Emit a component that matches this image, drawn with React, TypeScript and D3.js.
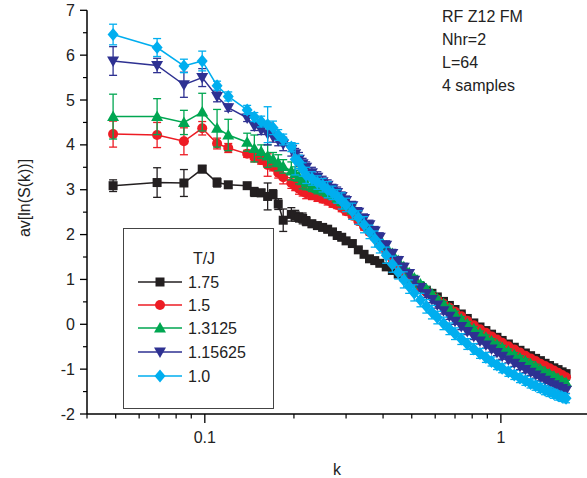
import React from 'react';
import * as d3 from 'd3';

const kValues = [0.049, 0.069, 0.085, 0.098, 0.110, 0.120, 0.139, 0.147, 0.155, 0.163,
  0.170, 0.177, 0.184, 0.196, 0.202, 0.208, 0.214, 0.220, 0.230, 0.240,
  0.250, 0.260, 0.270, 0.280, 0.290, 0.300, 0.315, 0.330, 0.345, 0.360,
  0.375, 0.390, 0.410, 0.430, 0.450, 0.470, 0.490, 0.510, 0.535, 0.560,
  0.585, 0.610, 0.640, 0.670, 0.700, 0.735, 0.770, 0.810, 0.850, 0.890,
  0.930, 0.970, 1.010, 1.060, 1.110, 1.160, 1.210, 1.260, 1.310, 1.360,
  1.410, 1.460, 1.510, 1.560, 1.610, 1.660];

const temperatures = ['1.75', '1.5', '1.3125', '1.15625', '1.0'];

const vals175 = [3.09, 3.16, 3.15, 3.46, 3.16, 3.11, 3.09, 2.95, 2.93, 2.85,
  2.90, 2.68, 2.32, 2.45, 2.42, 2.38, 2.36, 2.30, 2.24, 2.20,
  2.16, 2.12, 2.06, 1.98, 1.94, 1.86, 1.80, 1.66, 1.56, 1.46,
  1.42, 1.36, 1.28, 1.20, 1.12, 1.06, 0.99, 0.92, 0.84, 0.76,
  0.69, 0.61, 0.51, 0.42, 0.33, 0.23, 0.13, 0.03, -0.06, -0.14,
  -0.22, -0.29, -0.36, -0.44, -0.51, -0.58, -0.64, -0.70, -0.76, -0.81,
  -0.87, -0.92, -0.97, -1.01, -1.06, -1.10];
const errs175 = [0.13, 0.33, 0.30, 0.08, 0.10, 0.07, 0.05, 0.10, 0.08, 0.30,
  0.10, 0.12, 0.25, 0.15, 0.12, 0.10, 0.12, 0.10, 0.08, 0.08,
  0.07, 0.08, 0.07, 0.06, 0.07, 0.06, 0.06, 0.05, 0.06, 0.05,
  0.05, 0.05, 0.05, 0.04, 0.05, 0.04, 0.04, 0.04, 0.04, 0.04,
  0.04, 0.04, 0.04, 0.04, 0.04, 0.04, 0.04, 0.04, 0.04, 0.04,
  0.04, 0.04, 0.04, 0.04, 0.04, 0.04, 0.04, 0.04, 0.04, 0.04,
  0.04, 0.04, 0.04, 0.04, 0.04, 0.04];

const vals150 = [4.24, 4.22, 4.08, 4.37, 4.03, 3.93, 3.80, 3.72, 3.66, 3.55,
  3.52, 3.38, 3.28, 3.15, 3.08, 3.02, 2.96, 2.92, 2.88, 2.84,
  2.80, 2.76, 2.70, 2.66, 2.60, 2.52, 2.42, 2.30, 2.18, 2.06,
  1.94, 1.80, 1.62, 1.46, 1.31, 1.17, 1.05, 0.94, 0.82, 0.72,
  0.63, 0.55, 0.46, 0.37, 0.28, 0.18, 0.08, -0.02, -0.11, -0.19,
  -0.27, -0.34, -0.41, -0.49, -0.56, -0.63, -0.70, -0.76, -0.82, -0.88,
  -0.93, -0.98, -1.03, -1.08, -1.13, -1.18];
const errs150 = [0.29, 0.28, 0.30, 0.15, 0.12, 0.10, 0.08, 0.10, 0.09, 0.25,
  0.10, 0.12, 0.15, 0.12, 0.10, 0.12, 0.10, 0.12, 0.10, 0.10,
  0.09, 0.10, 0.09, 0.08, 0.09, 0.08, 0.08, 0.07, 0.08, 0.07,
  0.07, 0.06, 0.06, 0.06, 0.05, 0.05, 0.05, 0.05, 0.05, 0.05,
  0.04, 0.04, 0.04, 0.04, 0.04, 0.04, 0.04, 0.04, 0.04, 0.04,
  0.04, 0.04, 0.04, 0.04, 0.04, 0.04, 0.04, 0.04, 0.04, 0.04,
  0.04, 0.04, 0.04, 0.04, 0.04, 0.04];

const vals13125 = [4.63, 4.63, 4.50, 4.73, 4.37, 4.22, 4.06, 3.92, 3.85, 3.75,
  3.68, 3.60, 3.52, 3.42, 3.36, 3.28, 3.20, 3.15, 3.08, 3.03,
  3.00, 2.94, 2.88, 2.81, 2.74, 2.66, 2.55, 2.42, 2.30, 2.17,
  2.04, 1.91, 1.74, 1.58, 1.42, 1.28, 1.15, 1.03, 0.90, 0.79,
  0.68, 0.57, 0.46, 0.36, 0.24, 0.12, 0.01, -0.10, -0.20, -0.29,
  -0.37, -0.45, -0.52, -0.60, -0.68, -0.75, -0.82, -0.88, -0.94, -1.00,
  -1.06, -1.11, -1.16, -1.21, -1.26, -1.30];
const errs13125 = [0.50, 0.40, 0.27, 0.42, 0.42, 0.35, 0.20, 0.30, 0.15, 0.25,
  0.15, 0.18, 0.15, 0.20, 0.15, 0.15, 0.18, 0.15, 0.12, 0.12,
  0.12, 0.12, 0.10, 0.10, 0.10, 0.10, 0.09, 0.09, 0.08, 0.08,
  0.08, 0.07, 0.07, 0.07, 0.06, 0.06, 0.06, 0.06, 0.05, 0.05,
  0.05, 0.05, 0.05, 0.05, 0.05, 0.05, 0.05, 0.05, 0.05, 0.05,
  0.05, 0.05, 0.05, 0.05, 0.05, 0.05, 0.05, 0.05, 0.05, 0.05,
  0.05, 0.05, 0.05, 0.05, 0.05, 0.05];

const vals115625 = [5.87, 5.77, 5.34, 5.50, 5.08, 4.83, 4.60, 4.42, 4.33, 4.25,
  4.18, 4.10, 4.02, 3.90, 3.80, 3.68, 3.58, 3.50, 3.38, 3.28,
  3.18, 3.10, 3.02, 2.94, 2.85, 2.76, 2.64, 2.50, 2.36, 2.22,
  2.08, 1.94, 1.76, 1.58, 1.42, 1.27, 1.13, 0.98, 0.82, 0.68,
  0.55, 0.43, 0.30, 0.18, 0.07, -0.05, -0.16, -0.27, -0.37, -0.46,
  -0.55, -0.63, -0.71, -0.79, -0.87, -0.94, -1.01, -1.07, -1.13, -1.19,
  -1.25, -1.30, -1.35, -1.39, -1.43, -1.47];
const errs115625 = [0.32, 0.16, 0.28, 0.20, 0.12, 0.08, 0.08, 0.10, 0.10, 0.25,
  0.12, 0.12, 0.15, 0.15, 0.12, 0.15, 0.12, 0.12, 0.12, 0.12,
  0.12, 0.12, 0.10, 0.12, 0.10, 0.10, 0.10, 0.10, 0.10, 0.10,
  0.10, 0.10, 0.10, 0.09, 0.09, 0.09, 0.08, 0.08, 0.08, 0.08,
  0.07, 0.07, 0.07, 0.07, 0.07, 0.07, 0.07, 0.07, 0.07, 0.07,
  0.07, 0.07, 0.07, 0.07, 0.07, 0.07, 0.07, 0.07, 0.07, 0.07,
  0.07, 0.07, 0.07, 0.07, 0.07, 0.07];

const vals100 = [6.46, 6.17, 5.76, 5.87, 5.32, 5.08, 4.78, 4.62, 4.52, 4.45,
  4.38, 4.22, 4.12, 3.95, 3.68, 3.62, 3.45, 3.32, 3.25, 3.16,
  3.10, 3.00, 2.93, 2.85, 2.75, 2.66, 2.52, 2.38, 2.22, 2.06,
  1.90, 1.74, 1.54, 1.34, 1.16, 0.99, 0.84, 0.70, 0.54, 0.40,
  0.27, 0.15, 0.02, -0.10, -0.21, -0.33, -0.44, -0.55, -0.65, -0.74,
  -0.83, -0.91, -0.98, -1.06, -1.13, -1.20, -1.26, -1.32, -1.37, -1.42,
  -1.47, -1.51, -1.55, -1.59, -1.62, -1.65];
const errs100 = [0.23, 0.20, 0.15, 0.22, 0.10, 0.10, 0.10, 0.10, 0.12, 0.40,
  0.15, 0.12, 0.12, 0.10, 0.35, 0.15, 0.15, 0.18, 0.15, 0.15,
  0.15, 0.18, 0.15, 0.15, 0.18, 0.15, 0.18, 0.15, 0.18, 0.15,
  0.18, 0.15, 0.18, 0.18, 0.15, 0.18, 0.15, 0.18, 0.15, 0.15,
  0.15, 0.14, 0.14, 0.13, 0.13, 0.12, 0.12, 0.12, 0.11, 0.11,
  0.10, 0.10, 0.10, 0.10, 0.10, 0.10, 0.10, 0.10, 0.10, 0.10,
  0.10, 0.10, 0.10, 0.10, 0.10, 0.10];

const yTickValues = [-2, -1, 0, 1, 2, 3, 4, 5, 6, 7];
const xMajorTicks = [0.1, 1];
const xMinorTicks = [0.04, 0.05, 0.06, 0.07, 0.08, 0.09, 0.2, 0.3, 0.4, 0.5, 0.6, 0.7, 0.8, 0.9, 2];
const infoLines = ['RF Z12 FM', 'Nhr=2', 'L=64', '4 samples'];
const legendTitle = 'T/J';
const xLabel = 'k';
const yLabel = 'av[ln(S(k))]';

const seriesValues = [vals175, vals150, vals13125, vals115625, vals100];
const seriesErrors = [errs175, errs150, errs13125, errs115625, errs100];
const seriesColors = ['#231f20', '#ed1c24', '#00a651', '#2e3192', '#00aeef'];
const seriesShapes = ['square', 'circle', 'triangleUp', 'triangleDown', 'diamond'];

const FONT = '"Liberation Sans", Arial, sans-serif';

function Marker({ shape, cx, cy, color }: { shape: string; cx: number; cy: number; color: string }) {
  if (shape === 'circle') return <circle cx={cx} cy={cy} r={5} fill={color} />;
  let d = '';
  if (shape === 'square') d = `M${cx - 4.5},${cy - 4.5}h9v9h-9Z`;
  else if (shape === 'triangleUp') d = `M${cx},${cy - 6}L${cx + 6},${cy + 4.5}L${cx - 6},${cy + 4.5}Z`;
  else if (shape === 'triangleDown') d = `M${cx},${cy + 6}L${cx + 6},${cy - 4.5}L${cx - 6},${cy - 4.5}Z`;
  else if (shape === 'diamond') d = `M${cx},${cy - 6.5}L${cx + 5.5},${cy}L${cx},${cy + 6.5}L${cx - 5.5},${cy}Z`;
  return <path d={d} fill={color} />;
}

export default function App() {
  const W = 587, H = 478;
  const x = d3.scaleLog().domain([0.04, 2]).range([87, 590]);
  const y = d3.scaleLinear().domain([-2, 7]).range([414, 10.3]);
  const line = d3.line<number>()
    .x((_, i) => x(kValues[i]))
    .y((v) => y(v));
  const yMinor = d3.range(-2, 7, 0.5).filter((v) => !Number.isInteger(v));
  const x0 = x.range()[0];
  const yb = y.range()[0];

  const legendRowY = [282, 305, 328, 352, 376];

  return (
    <svg width={W} height={H} style={{ position: 'absolute', left: 0, top: 0, background: '#fff' }} fontFamily={FONT}>
      <rect width={W} height={H} fill="#fff" />
      {seriesValues.map((vals, s) => (
        <g key={s}>
          <path d={line(vals) || ''} fill="none" stroke={seriesColors[s]} strokeWidth={1.5} />
          {vals.map((v, i) => {
            const cx = x(kValues[i]);
            const e = seriesErrors[s][i];
            const y1 = y(v - e), y2 = y(v + e);
            return (
              <g key={i} stroke={seriesColors[s]} strokeWidth={1.3}>
                <line x1={cx} x2={cx} y1={y1} y2={y2} />
                <line x1={cx - 4} x2={cx + 4} y1={y1} y2={y1} />
                <line x1={cx - 4} x2={cx + 4} y1={y2} y2={y2} />
              </g>
            );
          })}
          {vals.map((v, i) => (
            <Marker key={'m' + i} shape={seriesShapes[s]} cx={x(kValues[i])} cy={y(v)} color={seriesColors[s]} />
          ))}
        </g>
      ))}

      {/* axes */}
      <line x1={x0} x2={x0} y1={y(7)} y2={yb} stroke="#000" strokeWidth={1.5} />
      <line x1={x0} x2={W} y1={yb} y2={yb} stroke="#000" strokeWidth={1.5} />
      {yTickValues.map((t) => (
        <g key={'yt' + t}>
          <line x1={x0 - 7} x2={x0} y1={y(t)} y2={y(t)} stroke="#000" strokeWidth={1.3} />
          <text x={75} y={y(t) + 5.5} textAnchor="end" fontSize={16} fill="#222">{t}</text>
        </g>
      ))}
      {yMinor.map((t) => (
        <line key={'ym' + t} x1={x0 - 4} x2={x0} y1={y(t)} y2={y(t)} stroke="#000" strokeWidth={1.2} />
      ))}
      {xMajorTicks.map((t) => (
        <g key={'xt' + t}>
          <line x1={x(t)} x2={x(t)} y1={yb} y2={yb + 9} stroke="#000" strokeWidth={1.3} />
          <text x={x(t)} y={yb + 29} textAnchor="middle" fontSize={16} fill="#222">{String(t)}</text>
        </g>
      ))}
      {xMinorTicks.map((t) => (
        <line key={'xm' + t} x1={x(t)} x2={x(t)} y1={yb} y2={yb + 4.5} stroke="#000" strokeWidth={1.2} />
      ))}
      <text x={337} y={475} textAnchor="middle" fontSize={16} fill="#222">{xLabel}</text>
      <text transform="translate(30,198) rotate(-90)" textAnchor="middle" fontSize={16} fill="#222">{yLabel}</text>

      {/* info text */}
      {infoLines.map((t, i) => (
        <text key={t} x={442} y={21.5 + i * 23.3} fontSize={16} fill="#222">{t}</text>
      ))}

      {/* legend */}
      <rect x={123.5} y={228.5} width={150} height={180} fill="#fff" stroke="#444" strokeWidth={1} />
      <text x={204} y={264} textAnchor="middle" fontSize={16} fill="#222">{legendTitle}</text>
      {temperatures.map((lab, s) => (
        <g key={lab}>
          <line x1={138} x2={182} y1={legendRowY[s]} y2={legendRowY[s]} stroke={seriesColors[s]} strokeWidth={1.5} />
          <Marker shape={seriesShapes[s]} cx={160} cy={legendRowY[s]} color={seriesColors[s]} />
          <text x={188} y={legendRowY[s] + 6} fontSize={16} fill="#222">{lab}</text>
        </g>
      ))}
    </svg>
  );
}
